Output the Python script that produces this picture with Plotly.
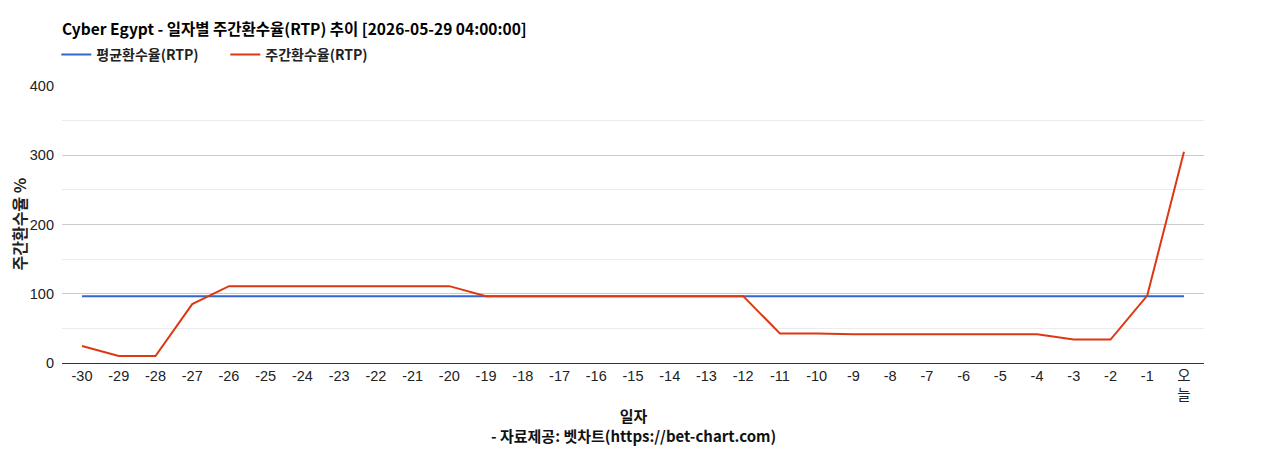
import plotly.graph_objects as go

# days back from today, last one is "today" (split over two lines like the original)
days = [str(d) for d in range(-30, 0)] + ["오<br>늘"]

avg_rtp = [96.5] * 31
week_rtp = [24.5, 10, 10, 85, 111, 111, 111, 111, 111, 111, 111,
            96.5, 96.5, 96.5, 96.5, 96.5, 96.5, 96.5, 96.5,
            42.6, 42.6, 41.5, 41.5, 41.5, 41.5, 41.5, 41.5,
            33.8, 33.8, 97.4, 305]

y_ticks = [0, 100, 200, 300, 400]

title_text = "Cyber Egypt - 일자별 주간환수율(RTP) 추이 [2026-05-29 04:00:00]"
source_text = "- 자료제공: 벳차트(https://bet-chart.com)"

tick_font = "Arial, 'Liberation Sans', 'Noto Sans CJK KR', sans-serif"
kr_font = "'Noto Sans CJK KR', 'Noto Sans', sans-serif"

# the page body has an 8px margin, so the figure is 8px smaller than the window
W, H = 1260, 442
L, R, T, B = 54, 64, 78, 87
plot_h = H - T - B
plot_w = W - L - R

fig = go.Figure()

fig.add_trace(go.Scatter(
    x=days, y=avg_rtp, mode="lines", name="<b>평균환수율(RTP)</b>",
    line=dict(color="#3366cc", width=2)
))
fig.add_trace(go.Scatter(
    x=days, y=week_rtp, mode="lines", name="<b>주간환수율(RTP)</b>",
    line=dict(color="#dc3912", width=2)
))

fig.update_layout(
    width=W,
    height=H,
    margin=dict(l=L, r=R, t=T, b=B),
    paper_bgcolor="white",
    plot_bgcolor="white",
    font=dict(family=tick_font, size=14, color="#222"),
    title=dict(
        text="<b>" + title_text + "</b>",
        x=L / W, xanchor="left", xref="container",
        y=1 - 22 / H, yanchor="middle", yref="container",
        font=dict(family=kr_font, size=15.5, color="#000")
    ),
    legend=dict(
        orientation="h", x=-0.005, xanchor="left", y=1 + 31 / plot_h, yanchor="middle",
        font=dict(family=kr_font, size=14, color="#222"), bgcolor="rgba(0,0,0,0)",
        itemwidth=30, entrywidth=124, entrywidthmode="pixels"
    ),
    showlegend=True,
)

fig.update_xaxes(
    type="category",
    range=[-0.545, 30.545],
    showgrid=False,
    showline=True, linecolor="#333", linewidth=1,
    ticks="", tickfont=dict(size=14.5, color="#222"),
    fixedrange=True,
)

fig.update_yaxes(
    range=[0, 400],
    tickvals=y_ticks,
    showgrid=True, gridcolor="#cccccc", gridwidth=1,
    minor=dict(dtick=50, showgrid=True, gridcolor="#ebebeb", gridwidth=1),
    zeroline=False,
    ticks="", tickfont=dict(size=14.5, color="#222"),
    ticklabelstandoff=7,
    fixedrange=True,
)

# y-axis title
fig.add_annotation(
    text="<b>주간환수율 %</b>", textangle=-90,
    x=(10 - L) / plot_w, xref="paper", y=0.5, yref="paper",
    xanchor="center", yanchor="middle", showarrow=False,
    font=dict(family=kr_font, size=16, color="#222")
)
# x-axis title with the data source line under it
fig.add_annotation(
    text="<b>일자</b><br><b>" + source_text + "</b>",
    x=0.5, xref="paper", y=-62 / plot_h, yref="paper",
    xanchor="center", yanchor="middle", showarrow=False,
    font=dict(family=kr_font, size=15, color="#111")
)

fig.write_html("out.html")
